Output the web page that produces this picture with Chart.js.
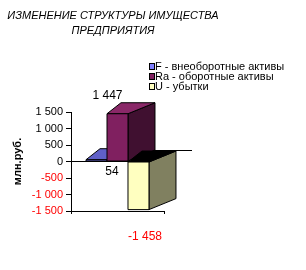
<!DOCTYPE html>
<html><head><meta charset="utf-8">
<script src="https://cdn.jsdelivr.net/npm/chart.js@4/dist/chart.umd.min.js"></script>
<style>html,body{margin:0;padding:0;background:#fff}canvas{display:block}</style>
</head><body>
<canvas id="c" width="306" height="270"></canvas>
<script>
// ---- data ----
const categories = [''];
const seriesNames = ['F - внеоборотные активы', 'Ra - оборотные активы', 'U - убытки'];
const valuesF = [54];
const valuesRa = [1447];
const valuesU = [-1458];
const tickValues = [-1500, -1000, -500, 0, 500, 1000, 1500];
const titleLines = ['ИЗМЕНЕНИЕ СТРУКТУРЫ ИМУЩЕСТВА', 'ПРЕДПРИЯТИЯ'];
const axisTitle = 'млн.руб.';

// ---- style ----
const FONT = "'Liberation Sans', Arial, sans-serif";
const faceColors = [
  {front: '#8080FF', top: '#6060C8', side: '#404080'},
  {front: '#802060', top: '#8A2868', side: '#401030'},
  {front: '#FFFFC0', top: '#000000', side: '#808060'}
];
const DEPTH_L = 14, DEPTH_R = 27, DEPTH_Y = 11, PLANE_DX = 28;
const labelOffsets = [[15.5, 10.5], [-10, -18], [6.5, 27.5]];

function fmt(v) {
  const s = String(Math.abs(Math.round(v))).replace(/\B(?=(\d{3})+(?!\d))/g, ' ');
  return (v < 0 ? '-' : '') + s;
}

function poly(ctx, pts, fill) {
  ctx.beginPath();
  ctx.moveTo(pts[0][0], pts[0][1]);
  for (let i = 1; i < pts.length; i++) ctx.lineTo(pts[i][0], pts[i][1]);
  ctx.closePath();
  ctx.fillStyle = fill;
  ctx.fill();
  ctx.stroke();
}

const bars3d = {
  id: 'bars3d',
  beforeDatasetsDraw(chart) {
    const ctx = chart.ctx, ca = chart.chartArea;
    const zero = chart.scales.y.getPixelForValue(0);
    ctx.save();
    ctx.strokeStyle = '#000';
    ctx.lineWidth = 1;
    // zero plane edges
    ctx.beginPath();
    ctx.moveTo(ca.left + PLANE_DX, zero - DEPTH_Y);
    ctx.lineTo(ca.right + PLANE_DX, zero - DEPTH_Y);
    ctx.moveTo(ca.left, zero);
    ctx.lineTo(ca.right, zero);
    ctx.stroke();
    chart.data.datasets.forEach((ds, di) => {
      const meta = chart.getDatasetMeta(di);
      const c = faceColors[di];
      meta.data.forEach(el => {
        const p = el.getProps(['x', 'y', 'base', 'width'], true);
        const l = p.x - p.width / 2, r = p.x + p.width / 2;
        const t = Math.min(p.y, p.base), b = Math.max(p.y, p.base);
        poly(ctx, [[r, t], [r + DEPTH_R, t - DEPTH_Y], [r + DEPTH_R, b - DEPTH_Y], [r, b]], c.side);
        poly(ctx, [[l, t], [r, t], [r + DEPTH_R, t - DEPTH_Y], [l + DEPTH_L, t - DEPTH_Y]], c.top);
        poly(ctx, [[l, t], [r, t], [r, b], [l, b]], c.front);
      });
    });
    ctx.restore();
    return false;
  },
  afterDraw(chart) {
    const ctx = chart.ctx;
    ctx.save();
    // data labels
    ctx.font = '12px ' + FONT;
    ctx.textAlign = 'center';
    ctx.textBaseline = 'middle';
    chart.data.datasets.forEach((ds, di) => {
      const meta = chart.getDatasetMeta(di);
      meta.data.forEach((el, i) => {
        const v = ds.data[i];
        const p = el.getProps(['x', 'y', 'base'], true);
        const anchorY = di === 0 ? p.base : p.y;
        ctx.fillStyle = v < 0 ? '#FF0000' : '#000000';
        ctx.fillText(fmt(v), p.x + labelOffsets[di][0], anchorY + labelOffsets[di][1]);
      });
    });
    // title
    ctx.font = 'italic 11px ' + FONT;
    ctx.fillStyle = '#000';
    ctx.fillText(titleLines[0], 113, 15.5);
    ctx.fillText(titleLines[1], 113, 30.5);
    // legend
    ctx.font = '11px ' + FONT;
    ctx.textAlign = 'left';
    chart.data.datasets.forEach((ds, di) => {
      const y = 67 + di * 10;
      ctx.fillStyle = ds.backgroundColor;
      ctx.fillRect(149.5, y - 3, 5, 5);
      ctx.strokeStyle = '#000';
      ctx.lineWidth = 1;
      ctx.strokeRect(149.5, y - 3.5, 5, 6);
      ctx.fillStyle = '#000';
      ctx.fillText(ds.label, 155, y);
    });
    ctx.restore();
  }
};

new Chart(document.getElementById('c'), {
  type: 'bar',
  data: {
    labels: categories,
    datasets: [
      {label: seriesNames[0], data: valuesF, backgroundColor: faceColors[0].front},
      {label: seriesNames[1], data: valuesRa, backgroundColor: faceColors[1].front},
      {label: seriesNames[2], data: valuesU, backgroundColor: faceColors[2].front}
    ]
  },
  options: {
    responsive: false,
    animation: false,
    events: [],
    layout: {padding: {left: 7, right: 142, top: 112, bottom: 59}},
    datasets: {bar: {categoryPercentage: 0.677, barPercentage: 1}},
    plugins: {legend: {display: false}, title: {display: false}, tooltip: {enabled: false}},
    scales: {
      x: {
        grid: {offset: true, drawOnChartArea: false, tickLength: 3, color: '#000'},
        border: {display: true, color: '#000', width: 1},
        ticks: {display: false},
        afterFit: s => { s.height = 0; }
      },
      y: {
        min: -1500, max: 1500,
        afterBuildTicks: s => { s.ticks = tickValues.map(v => ({value: v})); },
        afterFit: s => { s.width = 64; },
        grid: {drawOnChartArea: false, tickLength: 5, color: '#000'},
        border: {display: true, color: '#000', width: 1},
        ticks: {
          padding: 3,
          font: {family: FONT, size: 11},
          color: ctx => ctx.tick && ctx.tick.value < 0 ? '#FF0000' : '#000000',
          callback: v => fmt(v)
        },
        title: {display: true, text: axisTitle, font: {family: FONT, size: 11, weight: 'bold'}, color: '#000', padding: {top: 4, bottom: 0}}
      }
    }
  },
  plugins: [bars3d]
});
</script>
</body></html>
